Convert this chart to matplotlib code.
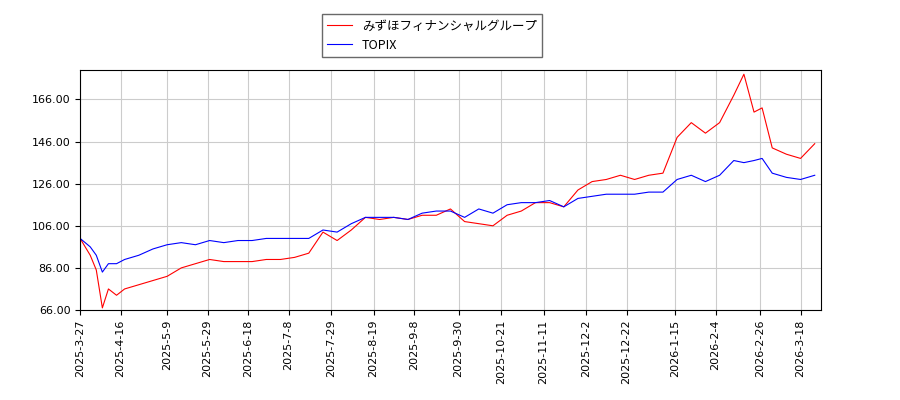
import datetime as dt
import matplotlib
matplotlib.use('Agg')
import matplotlib.pyplot as plt

plt.rcParams['font.family'] = ['Noto Sans CJK JP', 'DejaVu Sans']

dates = ["2025-03-27", "2025-04-01", "2025-04-04", "2025-04-07", "2025-04-10", "2025-04-14",
         "2025-04-18", "2025-04-25", "2025-05-02", "2025-05-09", "2025-05-16", "2025-05-23",
         "2025-05-30", "2025-06-06", "2025-06-13", "2025-06-20", "2025-06-27", "2025-07-04",
         "2025-07-11", "2025-07-18", "2025-07-25", "2025-08-01", "2025-08-08", "2025-08-15",
         "2025-08-22", "2025-08-29", "2025-09-05", "2025-09-12", "2025-09-19", "2025-09-26",
         "2025-10-03", "2025-10-10", "2025-10-17", "2025-10-24", "2025-10-31", "2025-11-07",
         "2025-11-14", "2025-11-21", "2025-11-28", "2025-12-05", "2025-12-12", "2025-12-19",
         "2025-12-26", "2026-01-02", "2026-01-09", "2026-01-16", "2026-01-23", "2026-01-30",
         "2026-02-06", "2026-02-13", "2026-02-18", "2026-02-23", "2026-02-27", "2026-03-04",
         "2026-03-11", "2026-03-18", "2026-03-25"]
mizuho = [100, 92, 85, 67, 76, 73, 76, 78, 80, 82, 86, 88, 90, 89, 89, 89, 90, 90, 91, 93,
          103, 99, 104, 110, 109, 110, 109, 111, 111, 114, 108, 107, 106, 111, 113, 117, 117,
          115, 123, 127, 128, 130, 128, 130, 131, 148, 155, 150, 155, 168, 178, 160, 162, 143,
          140, 138, 145]
topix = [100, 96, 92, 84, 88, 88, 90, 92, 95, 97, 98, 97, 99, 98, 99, 99, 100, 100, 100, 100,
         104, 103, 107, 110, 110, 110, 109, 112, 113, 113, 110, 114, 112, 116, 117, 117, 118,
         115, 119, 120, 121, 121, 121, 122, 122, 128, 130, 127, 130, 137, 136, 137, 138, 131,
         129, 128, 130]
tick_dates = ["2025-3-27", "2025-4-16", "2025-5-9", "2025-5-29", "2025-6-18", "2025-7-8",
              "2025-7-29", "2025-8-19", "2025-9-8", "2025-9-30", "2025-10-21", "2025-11-11",
              "2025-12-2", "2025-12-22", "2026-1-15", "2026-2-4", "2026-2-26", "2026-3-18"]

x = [dt.datetime.strptime(d, "%Y-%m-%d") for d in dates]
ticks = [dt.datetime.strptime(d, "%Y-%m-%d") for d in tick_dates]

fig = plt.figure(figsize=(9, 4), dpi=100)
ax = fig.add_axes([0.089, 0.225, 0.823, 0.6])
ax.plot(x, mizuho, color='red', lw=0.8, label='みずほフィナンシャルグループ')
ax.plot(x, topix, color='blue', lw=0.8, label='TOPIX')
ax.set_ylim(66, 180)
ax.set_yticks([66, 86, 106, 126, 146, 166])
ax.set_yticklabels([f"{v:.2f}" for v in [66, 86, 106, 126, 146, 166]], fontsize=8, family='DejaVu Sans')
ax.set_xlim(x[0], dt.datetime(2026, 3, 28))
ax.set_xticks(ticks)
ax.set_xticklabels(tick_dates, rotation=90, fontsize=8, family='DejaVu Sans')
ax.grid(True, color='#cccccc', lw=0.8)
ax.legend(loc='lower center', bbox_to_anchor=(0.475, 1.03), fontsize=9, fancybox=False,
          edgecolor='#444444')
fig.savefig('out.png')
